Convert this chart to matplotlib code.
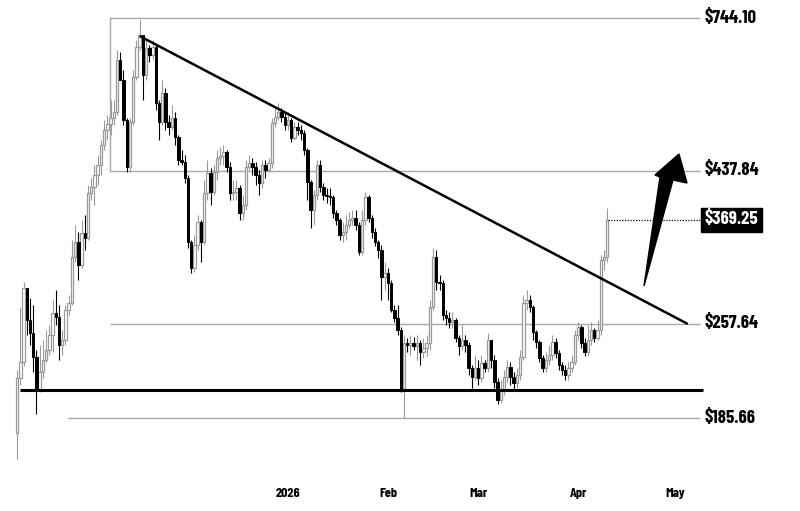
import numpy as np
import pandas as pd
import matplotlib
matplotlib.use('Agg')
import matplotlib.pyplot as plt
import matplotlib.dates as mdates
from matplotlib import font_manager as fm
from matplotlib.patches import Polygon
from matplotlib.ticker import NullLocator

# pick a bold condensed face if one is installed
installed = {f.name for f in fm.fontManager.ttflist}
for fam in ['Barlow Condensed', 'Roboto Condensed', 'Archivo Narrow',
            'Asap Condensed', 'Liberation Sans Narrow']:
    if fam in installed:
        break
else:
    fam = 'DejaVu Sans'
plt.rcParams['font.family'] = [fam, 'DejaVu Sans']

# daily candles, Oct 9 2025 -> Apr 10 2026 (open = previous close)
first_open = 176.4
close = [213.5, 225.6, 291.7, 261.0, 249.5, 229.6, 204.8, 218.0, 227.2, 235.2,
         247.8, 267.4, 263.7, 239.3, 243.5, 270.2, 276.9, 324.8, 342.1, 315.9,
         353.0, 347.0, 405.6, 414.1, 431.6, 446.9, 479.0, 504.6, 515.2, 526.0,
         537.1, 643.3, 600.2, 522.4, 443.8, 518.8, 606.5, 673.0, 701.5, 610.6,
         670.7, 654.6, 673.0, 554.1, 518.8, 573.7, 518.8, 509.9, 526.0, 492.5,
         454.7, 451.6, 427.2, 342.1, 312.6, 338.6, 366.8, 342.1, 405.6, 434.7,
         407.0, 436.2, 458.0, 461.2, 467.6, 443.8, 405.6, 407.0, 412.6, 378.4,
         389.0, 443.8, 450.0, 443.8, 431.6, 419.8, 446.9, 439.2, 450.0, 517.0,
         527.9, 537.1, 527.9, 513.4, 522.4, 490.8, 509.9, 504.6, 499.4, 470.8,
         421.3, 382.3, 402.8, 446.9, 414.1, 402.8, 401.4, 400.0, 378.4, 369.3,
         350.6, 354.2, 363.0, 369.3, 371.9, 363.0, 330.5, 369.3, 400.0, 371.9,
         354.2, 342.1, 332.8, 303.1, 307.3, 296.8, 270.2, 262.8, 252.1, 204.8,
         241.0, 239.3, 241.0, 238.5, 241.0, 233.6, 236.9, 241.0, 273.1, 324.8,
         297.8, 296.8, 265.6, 262.8, 259.2, 261.0, 245.2, 238.5, 243.5, 239.3,
         221.0, 214.3, 221.0, 213.5, 224.9, 221.0, 243.5, 227.2, 210.5, 197.8,
         204.8, 214.3, 221.8, 214.3, 209.8, 215.7, 229.6, 276.9, 279.8, 273.1,
         250.4, 241.8, 228.8, 221.0, 227.2, 231.2, 241.8, 232.8, 223.3, 219.5,
         215.7, 221.0, 225.6, 247.8, 254.8, 241.0, 233.6, 243.5, 252.1, 245.2,
         252.1, 321.4, 324.8, 369.25]
high = [219.5, 273.1, 297.8, 291.7, 281.8, 275.0, 235.2, 239.3, 243.5, 252.1,
        256.5, 279.8, 289.7, 275.0, 252.1, 275.0, 284.7, 344.5, 363.0, 354.2,
        369.3, 375.7, 416.9, 427.2, 446.9, 462.7, 487.4, 522.4, 531.5, 559.9,
        559.9, 666.0, 661.4, 621.3, 526.0, 526.0, 621.3, 689.5, 739.0, 701.5,
        689.5, 677.6, 689.5, 677.6, 559.9, 600.2, 583.8, 531.5, 550.3, 537.1,
        495.9, 470.8, 462.7, 431.6, 344.5, 350.6, 375.7, 369.3, 424.2, 454.7,
        442.3, 446.9, 470.8, 475.8, 479.0, 470.8, 451.6, 424.2, 424.2, 416.9,
        402.8, 454.7, 462.7, 458.0, 451.6, 439.2, 454.7, 454.7, 458.0, 526.0,
        544.6, 554.1, 544.6, 537.1, 537.1, 526.0, 518.8, 518.8, 513.4, 504.6,
        474.1, 424.2, 409.8, 454.7, 454.7, 419.8, 412.6, 412.6, 402.8, 382.3,
        371.9, 366.8, 375.7, 379.7, 382.3, 382.3, 366.8, 382.3, 407.0, 402.8,
        375.7, 359.2, 344.5, 338.6, 319.2, 312.6, 299.9, 275.0, 275.0, 254.8,
        247.8, 245.2, 247.8, 246.1, 247.8, 243.5, 245.2, 247.8, 279.8, 335.1,
        332.8, 305.2, 299.9, 270.2, 268.3, 268.3, 262.8, 247.8, 256.5, 247.8,
        241.8, 223.3, 231.2, 227.2, 231.2, 227.2, 249.5, 243.5, 231.2, 213.5,
        212.0, 219.5, 227.2, 225.6, 218.0, 221.0, 235.2, 284.7, 289.7, 284.7,
        275.0, 252.1, 243.5, 231.2, 233.6, 239.3, 247.8, 245.2, 235.2, 225.6,
        223.3, 225.6, 231.2, 252.1, 259.2, 256.5, 245.2, 256.5, 259.2, 253.9,
        261.0, 327.1, 332.8, 385.0]
low = [161.2, 208.4, 222.5, 247.8, 239.3, 218.0, 188.4, 203.4, 213.5, 225.6,
       231.2, 233.6, 256.5, 227.2, 231.2, 239.3, 265.6, 275.0, 319.2, 299.9,
       312.6, 332.8, 344.5, 395.8, 389.0, 416.9, 431.6, 470.8, 487.4, 495.9,
       513.4, 531.5, 610.6, 513.4, 436.2, 436.2, 513.4, 600.2, 666.0, 559.9,
       600.2, 638.9, 643.3, 540.8, 487.4, 513.4, 504.6, 495.9, 504.6, 479.0,
       446.9, 446.9, 419.8, 335.1, 307.3, 308.4, 332.8, 319.2, 338.6, 395.8,
       389.0, 402.8, 424.2, 446.9, 446.9, 436.2, 395.8, 395.8, 395.8, 369.3,
       369.3, 382.3, 439.2, 431.6, 416.9, 402.8, 412.6, 427.2, 436.2, 442.3,
       509.9, 522.4, 518.8, 504.6, 504.6, 484.0, 487.4, 495.9, 487.4, 462.7,
       395.8, 359.2, 363.0, 395.8, 407.0, 395.8, 391.7, 389.0, 371.9, 363.0,
       344.5, 342.1, 344.5, 359.2, 363.0, 356.7, 327.1, 327.1, 363.0, 366.8,
       347.0, 337.4, 323.7, 279.8, 289.7, 279.8, 268.3, 259.2, 247.8, 203.4,
       185.7, 233.6, 231.2, 235.2, 227.2, 223.3, 228.8, 230.4, 235.2, 270.2,
       289.7, 289.7, 261.0, 256.5, 253.9, 253.9, 241.8, 231.2, 235.2, 233.6,
       215.7, 206.2, 212.0, 208.4, 210.5, 218.0, 218.0, 221.0, 206.2, 195.1,
       195.8, 201.3, 210.5, 208.4, 204.8, 206.2, 212.0, 227.2, 270.2, 268.3,
       243.5, 236.9, 225.6, 218.0, 218.0, 223.3, 227.2, 228.8, 219.5, 215.7,
       212.0, 212.0, 218.0, 223.3, 243.5, 236.9, 230.4, 230.4, 239.3, 241.8,
       243.5, 247.8, 310.5, 319.2]

levels = [744.10, 437.84, 257.64, 185.66]
level_labels = ['$744.10', '$437.84', '$257.64', '$185.66']
support = 204.8
last_price = 369.25
trend_start = ('2025-11-16', 699.0)
trend_end = ('2026-05-05', 257.4)
month_ticks = ['2026-01-01', '2026-02-01', '2026-03-01', '2026-04-01', '2026-05-01']
month_labels = ['2026', 'Feb', 'Mar', 'Apr', 'May']

dates = pd.date_range('2025-10-09', periods=len(close), freq='D')
x = mdates.date2num(dates)
c = np.array(close)
h = np.array(high)
l = np.array(low)
o = np.r_[first_open, c[:-1]]
up = c >= o
dn = ~up

fig = plt.figure(figsize=(8, 5.11), dpi=100)
ax = fig.add_axes([0, 1 - 480 / 511, 1, 480 / 511])
ax.set_yscale('log')

def d(s):
    return mdates.date2num(pd.Timestamp(s))

jan1 = d('2026-01-01')
ax.set_xlim(jan1 - 89.3, jan1 + 158.8)
ax.set_ylim(149.8, 792.1)

grey = '#a8a8a8'
# levels
ax.plot([jan1 - 55.2, jan1 - 55.2], [levels[0], levels[1]], color=grey, lw=1, zorder=1)
for lv in levels[:3]:
    ax.hlines(lv, jan1 - 55.2, jan1 + 127.8, color=grey, lw=1, zorder=1)
ax.hlines(levels[3], jan1 - 68.2, jan1 + 127.8, color=grey, lw=1, zorder=1)

# candles
ax.vlines(x[up], l[up], h[up], color='#9a9a9a', lw=0.8, zorder=2)
ax.bar(x[up], c[up] - o[up], bottom=o[up], width=0.75, color='white',
       edgecolor='#9a9a9a', lw=0.9, zorder=3)
ax.vlines(x[dn], l[dn], h[dn], color='black', lw=0.8, zorder=2)
ax.bar(x[dn], o[dn] - c[dn], bottom=c[dn], width=0.75, color='black',
       edgecolor='black', lw=0.7, zorder=3)

# support + trendline
ax.hlines(support, jan1 - 83.1, jan1 + 128.7, color='black', lw=2.2, zorder=4)
ax.plot([d(trend_start[0]), d(trend_end[0])], [trend_start[1], trend_end[1]],
        color='black', lw=1.8, zorder=4, solid_capstyle='butt')
ax.hlines(last_price, x[-1] + 0.3, jan1 + 127.8, color='black', lw=0.9,
          linestyles=(0, (1, 1.2)), zorder=4)

# right labels
lx = jan1 + 129.2
for lv, txt in zip(levels, level_labels):
    ax.text(lx, lv, txt, ha='left', va='center', fontsize=13.5,
            fontweight='bold', color='black')
ax.text(lx, last_price, '$%.2f' % last_price, ha='left', va='center',
        fontsize=13.5, fontweight='bold', color='white',
        bbox=dict(boxstyle='square,pad=0.2', fc='black', ec='black'))

# arrow
pts = [(644, 286), (660, 177), (655, 175), (679, 154), (687, 183), (673, 180)]
arrow = Polygon([(px / 800, 1 - py / 511) for px, py in pts], closed=True,
                transform=fig.transFigure, color='black', zorder=5)
fig.patches.append(arrow)

# axes styling
for s in ax.spines.values():
    s.set_visible(False)
ax.yaxis.set_major_locator(NullLocator())
ax.yaxis.set_minor_locator(NullLocator())
ax.set_xticks([d(t) for t in month_ticks])
ax.set_xticklabels(month_labels, fontsize=10, fontweight='bold')
ax.tick_params(axis='x', length=0, pad=6)

fig.savefig('out.png', dpi=100, facecolor='white')
